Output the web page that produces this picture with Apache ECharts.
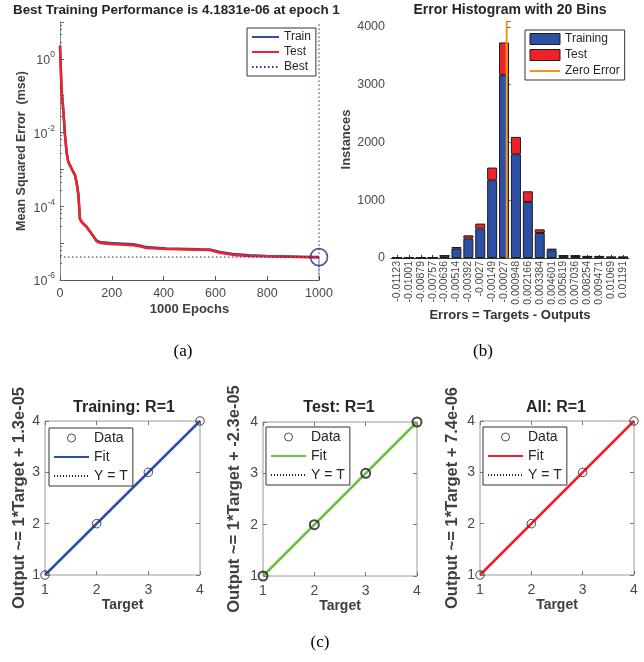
<!DOCTYPE html>
<html>
<head>
<meta charset="utf-8">
<script src="https://cdn.jsdelivr.net/npm/echarts@6/dist/echarts.min.js"></script>
<style>html,body{margin:0;padding:0;background:#fff;}#c{width:644px;height:662px;}</style>
</head>
<body>
<div id="c"></div>
<script>
// ---------- data ----------
const perfEpochs = [0, 6, 13, 19, 26, 32, 45, 58, 64, 71, 77, 84, 103, 128, 141, 154, 193, 283, 308, 334, 411, 540, 578, 617, 668, 733, 797, 925, 1000];
const trainMse = [2.3, 0.145, 0.04, 0.009, 0.0028, 0.0016, 0.00105, 0.0007, 0.00045, 0.00021, 0.000045, 0.000038, 0.000028, 0.000016, 0.0000118, 0.0000108, 0.0000101, 0.0000094, 0.0000087, 0.0000078, 0.0000072, 0.0000068, 0.0000067, 0.0000058, 0.0000051, 0.0000047, 0.0000045, 0.0000043, 0.0000041831];
const testMse = [2.2, 0.14, 0.039, 0.0088, 0.0027, 0.0016, 0.00104, 0.00069, 0.00044, 0.0002, 0.000044, 0.000037, 0.000027, 0.0000155, 0.0000112, 0.0000101, 0.0000095, 0.0000088, 0.0000082, 0.0000074, 0.0000069, 0.0000066, 0.0000065, 0.0000055, 0.0000048, 0.0000045, 0.0000044, 0.0000042, 0.0000041];
const bestMse = 4.1831e-6;
const bestEpoch = 1000;

const binLabels = ['-0.01123', '-0.01001', '-0.00879', '-0.00757', '-0.00636', '-0.00514', '-0.00392', '-0.0027', '-0.00149', '-0.00027', '0.000948', '0.002166', '0.003384', '0.004601', '0.005819', '0.007036', '0.008254', '0.009471', '0.01069', '0.01191'];
const histTraining = [3, 3, 4, 6, 40, 160, 335, 508, 1345, 3163, 1795, 970, 433, 133, 38, 35, 25, 25, 15, 15];
const histTest = [0, 0, 1, 1, 6, 30, 57, 87, 219, 566, 300, 184, 63, 29, 8, 8, 4, 4, 2, 2];

const targets = [1, 2, 3, 4];
const outTrain = [1, 2, 3, 4];
const outTest = [1, 2, 3, 4];
const outAll = [1, 2, 3, 4];
const fitTrain = [[1, 1.000013], [4, 4.000013]];
const fitTest = [[1, 0.999977], [4, 3.999977]];
const fitAll = [[1, 1.0000074], [4, 4.0000074]];
const identity = [[1, 1], [4, 4]];

// ---------- styles ----------
const FONT = '"Liberation Sans", Arial, Helvetica, sans-serif';
const SERIF = '"Liberation Serif", "Times New Roman", serif';
const TICK = '#4a4a4a';
const DARK = '#262626';
const AX = '#8a8a8a';
const BLUE = '#2d4fa5';
const RED = '#ee2228';
const GREEN = '#6abf48';
const ORANGE = '#f7941d';
const NAVY = '#1f2b80';

const chart = echarts.init(document.getElementById('c'), null, {renderer: 'canvas'});
const strip = n => n.split('#')[0];
const noSym = {opacity: 0};

const regGrids = [
  {left: 45, top: 421, width: 155, height: 154},
  {left: 263, top: 422, width: 154, height: 154},
  {left: 480, top: 421, width: 154, height: 154}
];
const regNames = ['Output ~= 1*Target + 1.3e-05', 'Output ~= 1*Target + -2.3e-05', 'Output ~= 1*Target + 7.4e-06'];
const regTitles = ['Training: R=1', 'Test: R=1', 'All: R=1'];
const regTitleX = [124, 339, 556];
const regColors = [BLUE, GREEN, RED];
const regOut = [outTrain, outTest, outAll];
const regFit = [fitTrain, fitTest, fitAll];
const regNameGap = [13, 20, 19];

const grids = [
  {left: 60, top: 22, width: 259, height: 258},
  {left: 391, top: 21, width: 238, height: 237}
];
regGrids.forEach(g => grids.push(Object.assign({show: true, borderColor: '#9a9a9a', borderWidth: 1, backgroundColor: '#fff'}, g)));

const binW = (parseFloat(binLabels[binLabels.length - 1]) - parseFloat(binLabels[0])) / (binLabels.length - 1);

const xAxes = [
  {type: 'value', gridIndex: 0, min: 0, max: 1000, interval: 200,
   axisLine: {lineStyle: {color: '#555'}}, axisTick: {inside: true, length: 4, lineStyle: {color: '#555'}},
   axisLabel: {fontFamily: FONT, fontSize: 12.5, color: TICK, margin: 7, formatter: v => String(v)}, splitLine: {show: false},
   name: '1000 Epochs', nameLocation: 'middle', nameGap: 23,
   nameTextStyle: {fontFamily: FONT, fontSize: 13, fontWeight: 'bold', color: '#404040'}},
  {type: 'category', gridIndex: 1, data: binLabels,
   axisLine: {lineStyle: {color: '#333'}}, axisTick: {show: true, inside: true, length: 3, alignWithLabel: true, lineStyle: {color: '#333'}},
   axisLabel: {fontFamily: FONT, fontSize: 10.5, color: TICK, rotate: 90, interval: 0, margin: 3},
   name: 'Errors = Targets - Outputs', nameLocation: 'middle', nameGap: 45,
   nameTextStyle: {fontFamily: FONT, fontSize: 13, fontWeight: 'bold', color: '#333'}},
  {type: 'value', gridIndex: 1, min: parseFloat(binLabels[0]) - binW / 2, max: parseFloat(binLabels[binLabels.length - 1]) + binW / 2,
   show: false, splitLine: {show: false}}
];
const yAxes = [
  {type: 'log', logBase: 10, gridIndex: 0, min: 1e-6, max: 10, splitNumber: 7,
   axisLine: {show: true, lineStyle: {color: AX}}, axisTick: {inside: true, length: 4, lineStyle: {color: '#666'}},
   minorTick: {show: true, splitNumber: 5, length: 2, lineStyle: {color: '#666'}},
   splitLine: {show: false},
   axisLabel: {margin: 5, formatter: v => {
       const e = Math.round(Math.log10(v));
       if (e % 2 !== 0) return '';
       return '{b|10}{s|' + e + '}';
     },
     rich: {b: {fontFamily: FONT, fontSize: 12.5, color: TICK, lineHeight: 17, verticalAlign: 'bottom'},
            s: {fontFamily: FONT, fontSize: 8.5, color: TICK, lineHeight: 9, verticalAlign: 'top'}}},
   name: 'Mean Squared Error  (mse)', nameLocation: 'middle', nameGap: 32,
   nameTextStyle: {fontFamily: FONT, fontSize: 12.5, fontWeight: 'bold', color: '#404040'}},
  {type: 'value', gridIndex: 1, min: 0, max: 4100, interval: 1000,
   axisLine: {show: true, lineStyle: {color: AX}}, axisTick: {show: true, inside: true, length: 4, lineStyle: {color: '#666'}},
   splitLine: {show: false},
   axisLabel: {fontFamily: FONT, fontSize: 12.5, color: TICK, margin: 6, formatter: v => (v % 1000 === 0 ? String(v) : '')},
   name: 'Instances', nameLocation: 'middle', nameGap: 37,
   nameTextStyle: {fontFamily: FONT, fontSize: 13, fontWeight: 'bold', color: '#404040'}}
];

regGrids.forEach((g, i) => {
  const gi = i + 2;
  xAxes.push({type: 'value', gridIndex: gi, min: 1, max: 4, interval: 1,
    axisLine: {show: false}, axisTick: {inside: true, length: 4, lineStyle: {color: '#777'}},
    axisLabel: {fontFamily: FONT, fontSize: 14, color: TICK, margin: 8}, splitLine: {show: false},
    name: 'Target', nameLocation: 'middle', nameGap: 23,
    nameTextStyle: {fontFamily: FONT, fontSize: 14, fontWeight: 'bold', color: '#404040'}});
  xAxes.push({type: 'value', gridIndex: gi, position: 'top', min: 1, max: 4, interval: 1,
    axisLine: {show: false}, axisTick: {inside: true, length: 4, lineStyle: {color: '#777'}},
    axisLabel: {show: false}, splitLine: {show: false}});
  yAxes.push({type: 'value', gridIndex: gi, min: 1, max: 4, interval: 1,
    axisLine: {show: false}, axisTick: {inside: true, length: 4, lineStyle: {color: '#777'}},
    axisLabel: {fontFamily: FONT, fontSize: 14, color: TICK, margin: 5}, splitLine: {show: false},
    name: regNames[i], nameLocation: 'middle', nameGap: regNameGap[i],
    nameTextStyle: {fontFamily: FONT, fontSize: 16.5, fontWeight: 'bold', color: '#404040'}});
  yAxes.push({type: 'value', gridIndex: gi, position: 'right', min: 1, max: 4, interval: 1,
    axisLine: {show: false}, axisTick: {inside: true, length: 4, lineStyle: {color: '#777'}},
    axisLabel: {show: false}, splitLine: {show: false}});
});

const series = [
  {name: 'Train', type: 'line', xAxisIndex: 0, yAxisIndex: 0, symbol: 'none', z: 3,
   data: perfEpochs.map((e, i) => [e, trainMse[i]]), lineStyle: {color: BLUE, width: 2.5}, itemStyle: {color: BLUE}},
  {name: 'Test', type: 'line', xAxisIndex: 0, yAxisIndex: 0, symbol: 'none', z: 4,
   data: perfEpochs.map((e, i) => [e, testMse[i]]), lineStyle: {color: RED, width: 2.5}, itemStyle: {color: RED}},
  {name: 'Best', type: 'line', xAxisIndex: 0, yAxisIndex: 0, symbol: 'none', z: 5,
   data: [[0, bestMse], [bestEpoch, bestMse], [bestEpoch, 1e-6], [bestEpoch, 10]],
   lineStyle: {color: NAVY, width: 1, type: [1.5, 2.5]}, itemStyle: {color: NAVY}},
  {name: 'Best point', type: 'scatter', xAxisIndex: 0, yAxisIndex: 0, z: 6,
   data: [[bestEpoch, bestMse]], symbol: 'circle', symbolSize: 17,
   itemStyle: {color: 'rgba(0,0,0,0)', borderColor: NAVY, borderWidth: 1.6}},

  {name: 'Training', type: 'bar', stack: 'h', xAxisIndex: 1, yAxisIndex: 1, data: histTraining,
   barCategoryGap: '16%', itemStyle: {color: BLUE, borderColor: '#1d1d1d', borderWidth: 1}},
  {name: 'Test#h', type: 'bar', stack: 'h', xAxisIndex: 1, yAxisIndex: 1, data: histTest,
   barCategoryGap: '16%', itemStyle: {color: RED, borderColor: '#1d1d1d', borderWidth: 1}},
  {name: 'Zero Error', type: 'line', xAxisIndex: 2, yAxisIndex: 1, symbol: 'none', z: 8,
   data: [[0, 0], [0, 4100]], lineStyle: {color: ORANGE, width: 2}, itemStyle: {color: ORANGE}}
];

const legends = [
  {left: 247, top: 28, orient: 'vertical', itemWidth: 27, itemHeight: 8, itemGap: 3, fs: 12,
   data: [{name: 'Train', itemStyle: noSym}, {name: 'Test', itemStyle: noSym}, {name: 'Best', itemStyle: noSym}]},
  {left: 525, top: 30, orient: 'vertical', itemWidth: 30, itemHeight: 11, itemGap: 4, fs: 12,
   data: [{name: 'Training', icon: 'rect', itemStyle: {color: BLUE, borderColor: '#1d1d1d', borderWidth: 1}},
          {name: 'Test#h', icon: 'rect', itemStyle: {color: RED, borderColor: '#1d1d1d', borderWidth: 1}},
          {name: 'Zero Error', itemStyle: noSym}]}
];

const legendPos = [[49, 428], [266, 427], [483, 427]];
regGrids.forEach((g, i) => {
  const k = '#' + i;
  series.push({name: 'Y = T' + k, type: 'line', xAxisIndex: 2 * i + 3, yAxisIndex: 2 * i + 2, symbol: 'none', z: 2,
    data: identity, lineStyle: {color: '#222', width: 1, type: [1, 2]}, itemStyle: {color: '#222'}});
  series.push({name: 'Fit' + k, type: 'line', xAxisIndex: 2 * i + 3, yAxisIndex: 2 * i + 2, symbol: 'none', z: 3,
    data: regFit[i], lineStyle: {color: regColors[i], width: 2.5}, itemStyle: {color: regColors[i]}});
  series.push({name: 'Data' + k, type: 'scatter', xAxisIndex: 2 * i + 3, yAxisIndex: 2 * i + 2, z: 4,
    data: targets.map((t, j) => [t, regOut[i][j]]), symbol: 'circle', symbolSize: i === 1 ? 9 : 8.5,
    itemStyle: {color: 'rgba(0,0,0,0)', borderColor: '#1a1a1a', borderWidth: i === 1 ? 2 : 1}});
  legends.push({left: legendPos[i][0], top: legendPos[i][1], orient: 'vertical', itemWidth: 35, itemHeight: 8, itemGap: 5, fs: 14,
    data: [{name: 'Data' + k, icon: 'circle', itemStyle: {color: '#fff', borderColor: '#222', borderWidth: 1}},
           {name: 'Fit' + k, itemStyle: noSym}, {name: 'Y = T' + k, itemStyle: noSym}]});
});
legends.forEach(l => {
  const fs = l.fs; delete l.fs;
  Object.assign(l, {
    backgroundColor: '#fff', borderColor: '#333', borderWidth: 1, padding: [3, 5, 3, 4], selectedMode: false, z: 20,
    formatter: strip, textStyle: {fontFamily: FONT, fontSize: fs, color: DARK}
  });
});

const txt = (t, x, y, size, bold, family, color) => ({
  type: 'text', x: x, y: y, z: 30,
  style: {text: t, fontFamily: family || FONT, fontSize: size, fontWeight: bold ? 'bold' : 'normal',
          fill: color || DARK, textAlign: 'center', textVerticalAlign: 'middle'}
});
const graphics = [
  {type: 'text', x: 13, y: 10, z: 30, style: {text: 'Best Training Performance is 4.1831e-06 at epoch 1', fontFamily: FONT, fontSize: 13.4, fontWeight: 'bold', fill: DARK, textAlign: 'left', textVerticalAlign: 'middle'}},
  txt('Error Histogram with 20 Bins', 510, 10, 14, true),
  txt(regTitles[0], regTitleX[0], 408, 16, true),
  txt(regTitles[1], regTitleX[1], 408, 16, true),
  txt(regTitles[2], regTitleX[2], 408, 16, true),
  txt('(a)', 183, 352, 17, false, SERIF, '#000'),
  txt('(b)', 483, 352, 17, false, SERIF, '#000'),
  txt('(c)', 320, 643, 17, false, SERIF, '#000')
];

chart.setOption({
  animation: false,
  backgroundColor: '#fff',
  grid: grids,
  xAxis: xAxes,
  yAxis: yAxes,
  legend: legends,
  series: series,
  graphic: graphics
});
</script>
</body>
</html>
